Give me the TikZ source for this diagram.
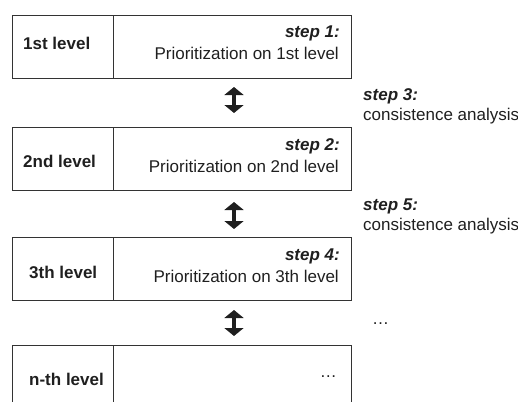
\documentclass[tikz,border=0pt]{standalone}
\usepackage{fontspec}
\setmainfont{Liberation Sans}
\usetikzlibrary{arrows.meta}
\begin{document}
\begin{tikzpicture}[x=1pt,y=-1pt,
  cell/.style={draw=black!80,line width=1pt,inner sep=0pt,anchor=north west,minimum height=63pt},
  leftcell/.style={cell,minimum width=101pt},
  rightcell/.style={cell,minimum width=238pt},
  levellbl/.style={font=\fontsize{17}{20}\selectfont\bfseries,text=black!88,anchor=base west,inner sep=0pt},
  steplbl/.style={font=\fontsize{17}{20}\selectfont\bfseries\itshape,text=black!88,inner sep=0pt},
  plaintxt/.style={font=\fontsize{17}{20}\selectfont,text=black!88,inner sep=0pt},
  link/.style={draw=black!88,line width=3.5pt,
    {Triangle[width=19pt,length=8pt]}-{Triangle[width=19pt,length=8pt]}}]
\useasboundingbox (0,0) rectangle (518,401);
\clip (0,0) rectangle (518,401);

% level rows: name cell on the left, prioritization cell on the right
\node[leftcell]  (l1) at (12,15)  {};
\node[rightcell] (r1) at (113,15) {};
\node[leftcell]  (l2) at (12,127)  {};
\node[rightcell] (r2) at (113,127) {};
\node[leftcell]  (l3) at (12,237)  {};
\node[rightcell] (r3) at (113,237) {};
\node[leftcell,minimum height=80pt]  (l4) at (12,345)  {};
\node[rightcell,minimum height=80pt] (r4) at (113,345) {};

% level names
\node[levellbl] (n1) at (23,50)  {1st level};
\node[levellbl] (n2) at (23,167) {2nd level};
\node[levellbl] (n3) at (29,278) {3th level};
\node[levellbl] (n4) at (29,385) {n-th level};

% prioritization steps
\node[steplbl,anchor=base east]  (s1) at (340,38)  {step 1:};
\node[plaintxt,anchor=base east] (p1) at (339,60)  {Prioritization on 1st level};
\node[steplbl,anchor=base east]  (s2) at (340,150) {step 2:};
\node[plaintxt,anchor=base east] (p2) at (339,172) {Prioritization on 2nd level};
\node[steplbl,anchor=base east]  (s4) at (340,260) {step 4:};
\node[plaintxt,anchor=base east] (p4) at (339,282) {Prioritization on 3th level};
\node[plaintxt,anchor=base east] (p5) at (337,377) {\dots};

% consistence analysis between levels
\coordinate (a1t) at (234,87);  \coordinate (a1b) at (234,113);
\coordinate (a2t) at (234,202); \coordinate (a2b) at (234,229);
\coordinate (a3t) at (234,310); \coordinate (a3b) at (234,336);
\draw[link] (a1t) -- (a1b);
\draw[link] (a2t) -- (a2b);
\draw[link] (a3t) -- (a3b);

\node[steplbl,anchor=base west]  (s3) at (363,100) {step 3:};
\node[plaintxt,anchor=base west] (c3) at (363,120) {consistence analysis};
\node[steplbl,anchor=base west]  (s5) at (363,210) {step 5:};
\node[plaintxt,anchor=base west] (c5) at (363,230) {consistence analysis};
\node[plaintxt,anchor=base west] (d6) at (372,324) {\dots};
\end{tikzpicture}
\end{document}
